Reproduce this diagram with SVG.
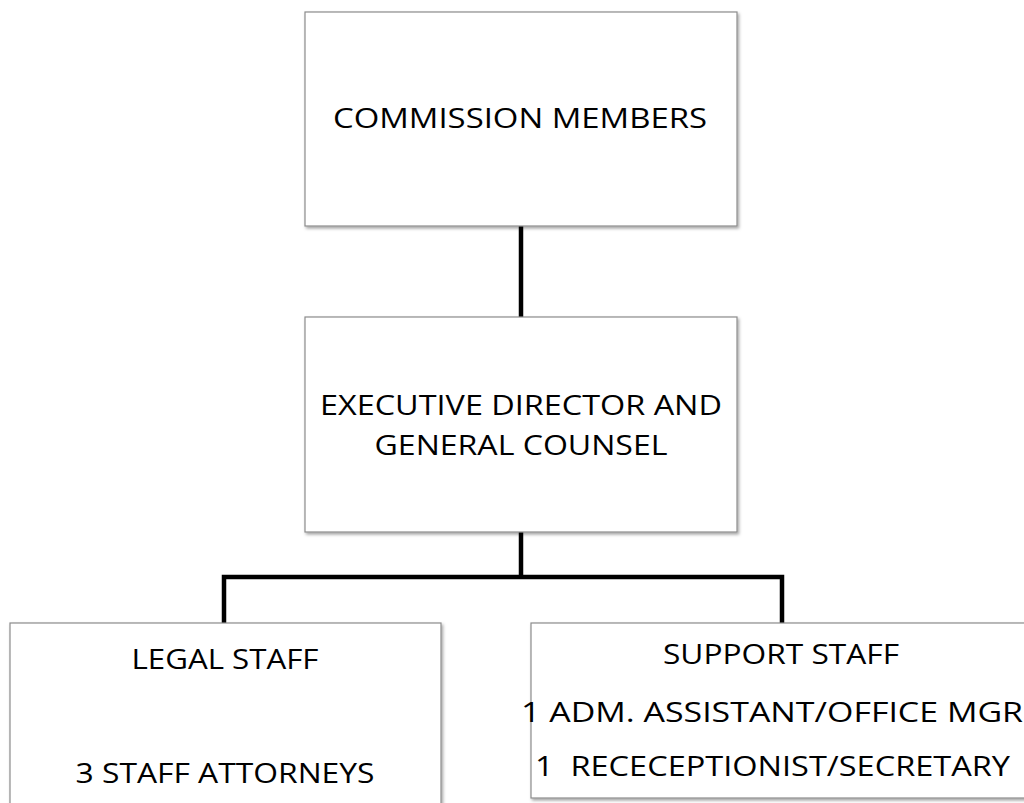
<svg xmlns="http://www.w3.org/2000/svg" width="1024" height="803" viewBox="0 0 1024 803">
<defs>
<style>
.box{fill:#fff;stroke:#8c8c8c;stroke-width:1.2;filter:url(#sh)}
.t{font-family:"Open Sans","Liberation Sans",sans-serif;font-size:28px;fill:#000;text-anchor:middle}
.c{stroke:#000;stroke-width:4.5;fill:none}
</style>
<filter id="sh" x="-5%" y="-5%" width="110%" height="115%">
<feDropShadow dx="1.5" dy="2" stdDeviation="1.5" flood-color="#000" flood-opacity="0.35"/>
</filter>
</defs>
<rect width="1024" height="803" fill="#fff"/>
<g id="connectors">
<line class="c" x1="521" y1="226" x2="521" y2="317"/>
<line class="c" x1="521" y1="532" x2="521" y2="577"/>
<polyline class="c" points="224,623 224,577 782,577 782,623"/>
</g>
<g id="commission">
<rect class="box" x="305" y="12" width="432" height="214"/>
<text class="t" x="520" y="128" textLength="374" lengthAdjust="spacingAndGlyphs">COMMISSION MEMBERS</text>
</g>
<g id="executive">
<rect class="box" x="305" y="317" width="432" height="215"/>
<text class="t" x="521" y="415" textLength="402" lengthAdjust="spacingAndGlyphs">EXECUTIVE DIRECTOR AND</text>
<text class="t" x="521" y="455" textLength="293" lengthAdjust="spacingAndGlyphs">GENERAL COUNSEL</text>
</g>
<g id="legal">
<rect class="box" x="10" y="623" width="431" height="200"/>
<text class="t" x="225" y="669" textLength="187" lengthAdjust="spacingAndGlyphs">LEGAL STAFF</text>
<text class="t" x="225" y="783" textLength="299" lengthAdjust="spacingAndGlyphs">3 STAFF ATTORNEYS</text>
</g>
<g id="support">
<rect class="box" x="531" y="623" width="500" height="175"/>
<text class="t" x="781" y="664" textLength="236" lengthAdjust="spacingAndGlyphs">SUPPORT STAFF</text>
<text class="t" x="772" y="722" textLength="502" lengthAdjust="spacingAndGlyphs">1 ADM. ASSISTANT/OFFICE MGR</text>
<text class="t" x="772.5" y="776" textLength="475" lengthAdjust="spacingAndGlyphs" xml:space="preserve">1  RECECEPTIONIST/SECRETARY</text>
</g>
</svg>
